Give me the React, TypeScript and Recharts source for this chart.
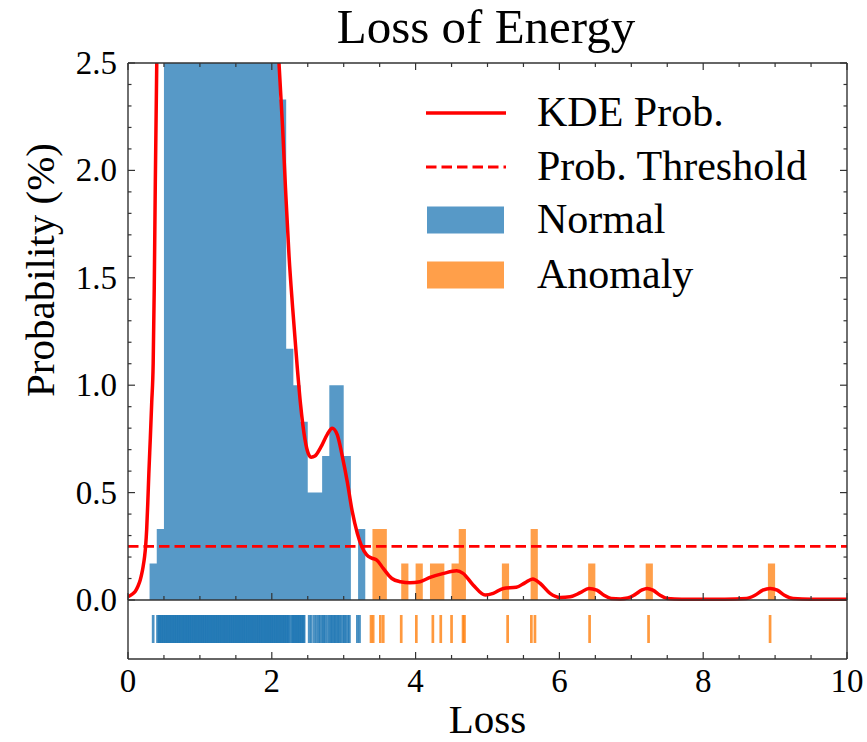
import React from 'react';
import {
  ComposedChart,
  XAxis,
  YAxis,
  Area,
  Line,
  Scatter,
  ReferenceLine,
} from 'recharts';

// ---------- data ----------

// Histogram of normal samples: left edge of each 0.1-wide bin and share of samples (%)
const normalBinStart = [
  0.3, 0.4, 0.5, 0.6, 0.7, 0.8, 0.9, 1.0, 1.1, 1.2, 1.3, 1.4, 1.5, 1.6, 1.7, 1.8,
  1.9, 2.0, 2.1, 2.2, 2.3, 2.4, 2.5, 2.6, 2.7, 2.8, 2.9, 3.0, 3.1, 3.2, 3.3,
];
const normalPct = [
  0.17, 0.33, 3.0, 4.5, 5.0, 5.5, 6.0, 6.33, 6.33, 6.17, 6.0, 5.83, 5.67, 5.33, 5.0, 4.5,
  4.0, 3.5, 2.33, 1.17, 1.0, 0.83, 0.5, 0.5, 0.67, 1.0, 1.0, 0.67, 0, 0.33, 0,
];

// Histogram of anomalous samples
const anomalyBinStart = [
  3.4, 3.5, 3.6, 3.8, 3.9, 4.0, 4.1, 4.2, 4.3, 4.4, 4.5, 4.6, 4.7, 5.2, 5.3, 5.6, 5.7,
  6.4, 6.5, 7.2, 7.3, 8.9, 9.0,
];
const anomalyPct = [
  0.33, 0.33, 0, 0.17, 0, 0.17, 0, 0.17, 0.17, 0, 0.17, 0.33, 0, 0.17, 0, 0.33, 0,
  0.17, 0, 0.17, 0, 0.17, 0,
];

// Kernel density estimate of the loss distribution
const kdeLoss = [
  0.0, 0.05, 0.1, 0.14, 0.17, 0.19, 0.21, 0.23, 0.245, 0.26, 0.275, 0.29, 0.31, 0.33,
  0.35, 0.365, 0.38, 0.4, 0.43, 0.47, 0.55, 0.7, 0.9, 1.1, 1.3, 1.5, 1.7, 1.85, 1.95,
  2.03, 2.1, 2.15, 2.19, 2.24, 2.29, 2.35, 2.4, 2.46, 2.51, 2.55, 2.6, 2.68, 2.77, 2.84,
  2.91, 2.98, 3.05, 3.12, 3.19, 3.25, 3.32, 3.39, 3.46, 3.55, 3.67, 3.79, 3.92, 4.06,
  4.2, 4.39, 4.57, 4.66, 4.8, 4.97, 5.08, 5.22, 5.4, 5.52, 5.63, 5.73, 5.87, 6.01, 6.15,
  6.29, 6.41, 6.52, 6.62, 6.72, 6.85, 6.95, 7.05, 7.15, 7.22, 7.3, 7.4, 7.5, 7.7, 8.0,
  8.3, 8.6, 8.72, 8.83, 8.93, 9.03, 9.13, 9.25, 9.5, 10.0,
];
const kdeProb = [
  0.015, 0.025, 0.04, 0.065, 0.093, 0.12, 0.155, 0.2, 0.25, 0.33, 0.45, 0.59, 0.75, 0.92,
  1.1, 1.45, 1.95, 2.5, 3.2, 3.9, 4.7, 5.4, 5.8, 5.9, 5.8, 5.4, 4.7, 3.9, 3.3,
  2.85, 2.5, 2.2, 1.92, 1.6, 1.36, 1.1, 0.91, 0.75, 0.68, 0.665, 0.67, 0.71, 0.77, 0.8,
  0.77, 0.67, 0.55, 0.41, 0.31, 0.25, 0.21, 0.195, 0.186, 0.147, 0.1, 0.085, 0.08, 0.085,
  0.105, 0.124, 0.136, 0.124, 0.07, 0.023, 0.031, 0.054, 0.059, 0.08, 0.098, 0.078, 0.031,
  0.012, 0.015, 0.034, 0.054, 0.046, 0.022, 0.007, 0.005, 0.009, 0.025, 0.047, 0.054,
  0.046, 0.022, 0.007, 0.004, 0.004, 0.004, 0.007, 0.022, 0.046, 0.054, 0.046, 0.022,
  0.007, 0.004, 0.004,
];

const THRESHOLD = 0.25;

// Individual losses shown in the rug strip
const normalRug = [
  0.35,
  0.41, 0.43, 0.44, 0.46, 0.47, 0.49, 0.5, 0.52, 0.53, 0.55, 0.56, 0.58, 0.59, 0.61, 0.62,
  0.64, 0.65, 0.67, 0.68, 0.7, 0.71, 0.73, 0.74, 0.76, 0.77, 0.79, 0.8, 0.82, 0.83, 0.85,
  0.86, 0.88, 0.89, 0.91, 0.92, 0.94, 0.95, 0.97, 0.98, 1.0, 1.01, 1.03, 1.04, 1.06, 1.07,
  1.09, 1.1, 1.12, 1.13, 1.15, 1.16, 1.18, 1.19, 1.21, 1.22, 1.24, 1.25, 1.27, 1.28, 1.3,
  1.31, 1.33, 1.34, 1.36, 1.37, 1.39, 1.4, 1.42, 1.43, 1.45, 1.46, 1.48, 1.49, 1.51, 1.52,
  1.54, 1.55, 1.57, 1.58, 1.6, 1.61, 1.63, 1.64, 1.66, 1.67, 1.69, 1.7, 1.72, 1.73, 1.75,
  1.76, 1.78, 1.79, 1.81, 1.82, 1.84, 1.85, 1.87, 1.88, 1.9, 1.91, 1.93, 1.94, 1.96, 1.97,
  1.99, 2.0, 2.02, 2.03, 2.05, 2.06, 2.08, 2.09, 2.11, 2.12, 2.14, 2.15, 2.17, 2.18, 2.2,
  2.21, 2.23, 2.24, 2.27, 2.29, 2.3, 2.32, 2.33, 2.35, 2.36, 2.38, 2.39, 2.41, 2.42, 2.44,
  2.45,
  2.52, 2.55, 2.59, 2.62, 2.65, 2.67, 2.7, 2.72, 2.74, 2.77, 2.8, 2.82, 2.84, 2.86, 2.88,
  2.9, 2.92, 2.94, 2.96, 2.99, 3.01, 3.03, 3.06, 3.08,
  3.19, 3.22,
];
const anomalyRug = [
  3.38, 3.41, 3.51, 3.55, 3.8, 4.01, 4.24, 4.35, 4.5, 4.66, 4.68, 5.28, 5.61, 5.66, 6.42,
  7.24, 8.93,
];

// Axis ticks
const xMajorTicks = [0, 2, 4, 6, 8, 10];
const xMinorTicks = [0.5, 1, 1.5, 2.5, 3, 3.5, 4.5, 5, 5.5, 6.5, 7, 7.5, 8.5, 9, 9.5];
const yMajorTicks = [0, 0.5, 1, 1.5, 2, 2.5];
const yMinorTicks = [
  0.1, 0.2, 0.3, 0.4, 0.6, 0.7, 0.8, 0.9, 1.1, 1.2, 1.3, 1.4, 1.6, 1.7, 1.8, 1.9, 2.1,
  2.2, 2.3, 2.4,
];

const legendItems = [
  { label: 'KDE Prob.', kind: 'line' },
  { label: 'Prob. Threshold', kind: 'dash' },
  { label: 'Normal', kind: 'normal' },
  { label: 'Anomaly', kind: 'anomaly' },
];

// ---------- layout & style ----------

const W = 867;
const H = 742;
const PLOT_LEFT = 128;
const PLOT_RIGHT = 847;
const PLOT_TOP = 63;
const MAIN_BOTTOM = 600;
const RUG_BOTTOM = 659;
const Y_MAX = 2.5;
// The rug strip lives below zero on the same linear y scale
const Y_MIN = -((RUG_BOTTOM - MAIN_BOTTOM) / (MAIN_BOTTOM - PLOT_TOP)) * Y_MAX;
const RUG_Y = -((629 - MAIN_BOTTOM) / (MAIN_BOTTOM - PLOT_TOP)) * Y_MAX;
const RUG_HALF = 14;

const FONT = '"Liberation Serif", "Times New Roman", serif';
const SPINE = '#333333';
const RED = '#ff0000';
const BLUE = '#1f77b4';
const ORANGE = '#ff7f0e';
const HIST_ALPHA = 0.75;

const normalData = normalBinStart.map((x, i) => ({ x, p: normalPct[i] }));
const anomalyData = anomalyBinStart.map((x, i) => ({ x, p: anomalyPct[i] }));
const kdeData = kdeLoss.map((x, i) => ({ x, p: kdeProb[i] }));
const thresholdData = [
  { x: 0, p: THRESHOLD },
  { x: 10, p: THRESHOLD },
];
const normalRugData = normalRug.map((x) => ({ x, p: RUG_Y }));
const anomalyRugData = anomalyRug.map((x) => ({ x, p: RUG_Y }));

const xTicks = [...xMajorTicks, ...xMinorTicks].sort((a, b) => a - b);
const yTicks = [...yMajorTicks, ...yMinorTicks].sort((a, b) => a - b);

const XTick = (props: any) => {
  const { x, payload } = props;
  const v = payload.value;
  const major = xMajorTicks.includes(v);
  const len = major ? 7 : 4;
  return (
    <g>
      <line x1={x} x2={x} y1={RUG_BOTTOM} y2={RUG_BOTTOM - len} stroke={SPINE} strokeWidth={1.2} />
      <line x1={x} x2={x} y1={MAIN_BOTTOM} y2={MAIN_BOTTOM - len} stroke={SPINE} strokeWidth={1.2} />
      <line x1={x} x2={x} y1={PLOT_TOP} y2={PLOT_TOP + len} stroke={SPINE} strokeWidth={1.2} />
      {major && (
        <text x={x} y={692} textAnchor="middle" fontFamily={FONT} fontSize={33} fill="#000">
          {v}
        </text>
      )}
    </g>
  );
};

const YTick = (props: any) => {
  const { y, payload } = props;
  const v = payload.value;
  const major = yMajorTicks.includes(v);
  const len = major ? 7 : 3.5;
  return (
    <g>
      <line x1={PLOT_LEFT} x2={PLOT_LEFT + len} y1={y} y2={y} stroke={SPINE} strokeWidth={1.2} />
      <line x1={PLOT_RIGHT} x2={PLOT_RIGHT - len} y1={y} y2={y} stroke={SPINE} strokeWidth={1.2} />
      {major && (
        <text x={117} y={y + 11} textAnchor="end" fontFamily={FONT} fontSize={33} fill="#000">
          {v.toFixed(1)}
        </text>
      )}
    </g>
  );
};

const rugShape = (color: string) => (props: any) => {
  const { cx, cy } = props;
  return (
    <line
      x1={cx}
      x2={cx}
      y1={cy - RUG_HALF}
      y2={cy + RUG_HALF}
      stroke={color}
      strokeOpacity={0.8}
      strokeWidth={2.7}
    />
  );
};

const LegendHandle = ({ kind, cy }: { kind: string; cy: number }) => {
  const x0 = 426;
  const x1 = 506;
  if (kind === 'line') {
    return <line x1={x0} x2={x1} y1={cy} y2={cy} stroke={RED} strokeWidth={3.5} />;
  }
  if (kind === 'dash') {
    return (
      <line x1={x0} x2={x1} y1={cy} y2={cy} stroke={RED} strokeWidth={2.8} strokeDasharray="10.5 5" />
    );
  }
  const color = kind === 'normal' ? BLUE : ORANGE;
  return (
    <rect x={x0 + 1} y={cy - 13.5} width={77} height={27} fill={color} fillOpacity={HIST_ALPHA} />
  );
};

export default function App() {
  const rowY = [113, 167, 220, 275];
  return (
    <div style={{ position: 'absolute', left: 0, top: 0, width: W, height: H, background: '#fff' }}>
      <ComposedChart
        width={W}
        height={H}
        margin={{ top: PLOT_TOP, right: W - PLOT_RIGHT, bottom: 0, left: 0 }}
      >
        <XAxis
          type="number"
          dataKey="x"
          domain={[0, 10]}
          ticks={xTicks}
          interval={0}
          allowDataOverflow
          height={H - RUG_BOTTOM}
          tick={XTick}
          tickLine={false}
          axisLine={{ stroke: SPINE, strokeWidth: 1.4 }}
        />
        <YAxis
          type="number"
          domain={[Y_MIN, Y_MAX]}
          ticks={yTicks}
          interval={0}
          allowDataOverflow
          width={PLOT_LEFT}
          tick={YTick}
          tickLine={false}
          axisLine={{ stroke: SPINE, strokeWidth: 1.4 }}
        />
        <Area
          data={normalData}
          dataKey="p"
          type="stepAfter"
          baseValue={0}
          stroke="none"
          fill={BLUE}
          fillOpacity={HIST_ALPHA}
          isAnimationActive={false}
        />
        <Area
          data={anomalyData}
          dataKey="p"
          type="stepAfter"
          baseValue={0}
          stroke="none"
          fill={ORANGE}
          fillOpacity={HIST_ALPHA}
          isAnimationActive={false}
        />
        <Scatter data={normalRugData} dataKey="p" shape={rugShape(BLUE)} isAnimationActive={false} />
        <Scatter data={anomalyRugData} dataKey="p" shape={rugShape(ORANGE)} isAnimationActive={false} />
        <Line
          data={thresholdData}
          dataKey="p"
          type="linear"
          stroke={RED}
          strokeWidth={2.8}
          strokeDasharray="10.5 5"
          dot={false}
          activeDot={false}
          isAnimationActive={false}
        />
        <Line
          data={kdeData}
          dataKey="p"
          type="monotone"
          stroke={RED}
          strokeWidth={3.5}
          dot={false}
          activeDot={false}
          isAnimationActive={false}
        />
        <ReferenceLine y={0} stroke={SPINE} strokeWidth={1.4} />
        <ReferenceLine y={Y_MAX} stroke={SPINE} strokeWidth={1.4} />
        <ReferenceLine x={10} stroke={SPINE} strokeWidth={1.4} />
      </ComposedChart>

      <svg
        width={W}
        height={H}
        style={{ position: 'absolute', left: 0, top: 0, pointerEvents: 'none' }}
      >
        <text x={486} y={43} textAnchor="middle" fontFamily={FONT} fontSize={49} fill="#000">
          Loss of Energy
        </text>
        <text
          x={0}
          y={0}
          transform="translate(54 270) rotate(-90)"
          textAnchor="middle"
          fontFamily={FONT}
          fontSize={41}
          fill="#000"
        >
          Probability (%)
        </text>
        <text x={487.5} y={733} textAnchor="middle" fontFamily={FONT} fontSize={41} fill="#000">
          Loss
        </text>
        {legendItems.map((item, i) => (
          <g key={item.label}>
            <LegendHandle kind={item.kind} cy={rowY[i]} />
            <text x={537} y={rowY[i] + 13} fontFamily={FONT} fontSize={42} fill="#000">
              {item.label}
            </text>
          </g>
        ))}
      </svg>
    </div>
  );
}
